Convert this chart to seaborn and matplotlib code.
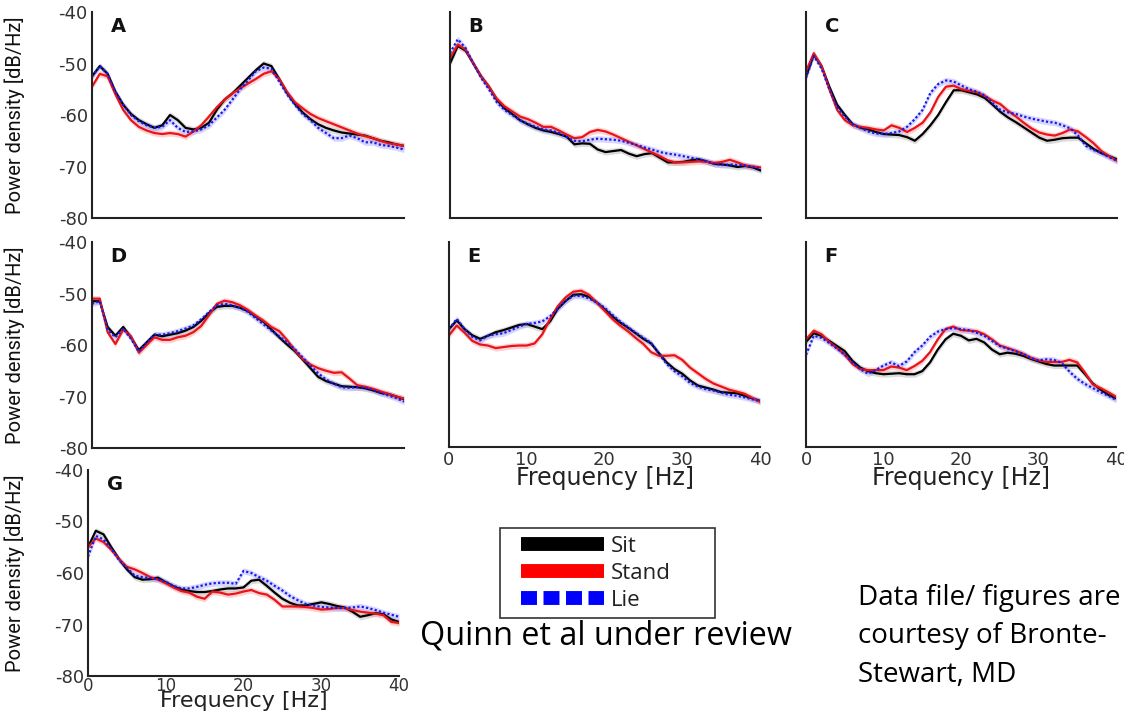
import numpy as np
import pandas as pd
import matplotlib
matplotlib.use("Agg")
import matplotlib.pyplot as plt
from matplotlib.lines import Line2D
from matplotlib.patches import Rectangle
import seaborn as sns

# ---------------- data (dB/Hz), 0..40 Hz, 1 Hz steps ----------------
freq = list(range(0, 41))

A_sit = [-52.5,-50.5,-52,-55.5,-58,-59.8,-61,-61.8,-62.5,-62,-60,-61,-62.5,-62.8,-62.5,-61.5,-59,-57,-55.8,-54.3,-52.8,-51.3,-50,-50.5,-53,-55.7,-57.8,-59.5,-60.8,-61.8,-62.5,-63,-63.4,-63.6,-63.8,-64,-64.5,-65,-65.3,-65.7,-66]
A_stand = [-54.5,-52,-52.5,-56,-59,-61,-62.3,-63,-63.5,-63.7,-63.5,-63.7,-64.2,-63.2,-62,-60.3,-58.5,-57,-55.8,-54.8,-53.9,-53,-52,-51.5,-53,-55.5,-57.5,-58.7,-59.8,-60.6,-61.2,-61.8,-62.4,-63,-63.6,-64.1,-64.5,-65,-65.5,-65.7,-66]
A_lie = [-52.5,-50.5,-52,-55.5,-58,-60,-61.2,-62,-62.5,-62.3,-61,-62.5,-63.3,-63.2,-62.8,-62,-60.5,-59,-57,-55,-53.3,-51.5,-50.8,-51,-53.5,-56,-58,-59.8,-61,-62.5,-63.5,-64.5,-64.5,-64,-64.5,-65.3,-65.3,-65.8,-66,-66.3,-66.7]

B_sit = [-50,-46.6,-47.5,-50,-52.5,-54.5,-57,-58.7,-59.8,-61,-61.8,-62.5,-63,-63.3,-63.7,-64.2,-65.7,-65.5,-65.6,-66.7,-67.2,-67,-66.8,-67.5,-68,-67.6,-67.4,-68.3,-69.2,-69.2,-69.1,-68.8,-68.6,-69,-69.5,-69.6,-69.8,-70.1,-69.9,-70.2,-70.8]
B_stand = [-49,-46.3,-47.3,-50,-52.5,-54.5,-56.8,-58.3,-59.3,-60.3,-60.8,-61.5,-62.3,-62.3,-63,-63.8,-64.5,-64.3,-63.3,-62.9,-63.2,-63.8,-64.5,-65.2,-65.9,-66.6,-67.3,-68,-68.8,-69.2,-69.2,-69.1,-69,-69.1,-69.3,-69.1,-68.7,-69.2,-69.8,-70,-70.2]
B_lie = [-48,-45.3,-47,-50,-52.8,-55,-57.5,-59,-60,-61,-61.7,-62.3,-62.8,-63,-63.5,-64.3,-65,-65.1,-64.8,-64.6,-64.7,-64.8,-65,-65.4,-65.8,-66.3,-66.7,-67.2,-67.5,-67.7,-68,-68.3,-68.6,-69,-69.5,-69.7,-69.6,-69.7,-69.8,-70.1,-70.5]

C_sit = [-52.5,-48.3,-50.5,-54.5,-58,-60,-61.8,-62.5,-62.8,-63.3,-63.7,-63.8,-63.9,-64.3,-65,-63.7,-62,-60,-57.5,-55.2,-55.2,-55.6,-56,-56.7,-58,-59.4,-60.5,-61.4,-62.4,-63.4,-64.4,-65,-64.8,-64.5,-64.4,-64.4,-65.5,-66.6,-67.4,-68,-68.6]
C_stand = [-51.5,-48,-50.5,-55,-59,-61,-62,-62.3,-62.5,-62.8,-63,-62,-62.5,-63.3,-62.5,-61.5,-59.5,-56.5,-54.5,-54.3,-55,-55.3,-55.6,-56.3,-57.2,-57.9,-59.2,-60.3,-61.5,-62.6,-63.4,-63.8,-64,-63.5,-62.8,-63.2,-64.3,-65.5,-67,-68,-68.9]
C_lie = [-52.8,-48.5,-51,-55,-58.5,-60.3,-61.8,-62.5,-63.2,-63.6,-63.7,-63.5,-63.2,-62.3,-60.8,-59,-55.7,-54,-53.3,-53.5,-54.3,-55,-55.5,-56.2,-57.7,-59,-59.5,-59.8,-60.3,-60.7,-61,-61.3,-61.5,-62,-62.6,-64,-66,-66.8,-67.4,-68.2,-68.9]

D_sit = [-51.5,-51.5,-56.5,-58.2,-56.5,-58.5,-61,-59.5,-58,-58.3,-58,-57.7,-57.2,-56.5,-55.3,-53.8,-52.6,-52.4,-52.4,-52.8,-53.4,-54.5,-55.5,-57,-58.5,-59.9,-61.2,-62.8,-64.5,-66.2,-67,-67.5,-68,-68.1,-68.2,-68.4,-68.8,-69.3,-69.5,-70,-70.5]
D_stand = [-51,-51,-57.5,-59.8,-57,-58.3,-61.5,-60,-58.5,-59,-59,-58.5,-58.2,-57.5,-56.3,-54.2,-52,-51.4,-51.7,-52.3,-53.2,-54.3,-55.3,-56.5,-57.3,-59,-61,-62.7,-63.8,-64.5,-65,-65.4,-65.3,-66.5,-67.8,-68.1,-68.5,-69,-69.5,-70,-70.4]
D_lie = [-52,-51.5,-57,-58.5,-56.8,-58.8,-61.3,-59.5,-58,-58,-57.7,-57.3,-56.8,-56.2,-55,-53.6,-52.3,-52,-52.3,-52.8,-53.6,-54.8,-56,-57.2,-58.3,-59.5,-60.8,-62.4,-64,-65.5,-66.7,-67.5,-68.2,-68.3,-68.2,-68.3,-68.7,-69.3,-69.8,-70.3,-71]

E_sit = [-57,-55.3,-57,-58.2,-58.9,-58.3,-57.6,-57.2,-56.7,-56.2,-56,-56.5,-57,-55.5,-53,-51.5,-50.3,-50.2,-50.7,-51.8,-53.1,-54.5,-55.7,-56.7,-57.8,-58.9,-59.8,-61.7,-63.5,-64.8,-65.7,-67,-68,-68.4,-68.8,-69.3,-69.4,-69.5,-70,-70.5,-71]
E_stand = [-58.2,-56.3,-57.7,-59.3,-60,-60.2,-60.7,-60.5,-60.3,-60.2,-60.2,-59.8,-58,-55,-52.5,-50.8,-49.7,-49.5,-50.3,-51.8,-53.4,-55,-56.3,-57.4,-58.7,-59.9,-61.5,-62.2,-62.2,-62.1,-63,-64.5,-65.6,-66.7,-67.6,-68.2,-68.8,-69.2,-69.6,-70.4,-71.2]
E_lie = [-57,-55,-57,-58.5,-59.2,-58.3,-58,-57.8,-57.2,-56.5,-56,-55.8,-55.5,-54.5,-53,-51.5,-50.5,-50.5,-51,-51.8,-52.8,-54.2,-55.5,-56.6,-57.7,-58.7,-59.7,-61.8,-63.8,-65.2,-66.2,-67.5,-68.2,-68.7,-69,-69.4,-69.8,-70,-70.3,-70.7,-71]

F_sit = [-59.5,-57.8,-58.3,-59.3,-60.3,-61.3,-63.2,-64.5,-65.2,-65.6,-65.8,-65.7,-65.6,-65.8,-65.8,-65.2,-63.5,-61,-59,-57.9,-58.3,-59.2,-58.9,-59.6,-61,-61.9,-61.6,-61.8,-62.2,-62.8,-63.3,-63.8,-64.1,-64.1,-64.1,-64.1,-65.8,-67.6,-68.8,-69.8,-70.5]
F_stand = [-59,-57.3,-58,-59.5,-60.7,-62,-63.8,-64.8,-65,-65,-65,-64.3,-64.5,-65,-64.2,-63.2,-61.5,-59,-57,-56.5,-57.2,-57.3,-57.4,-58,-59,-60.2,-60.7,-61.2,-61.8,-62.6,-63.1,-63.4,-63.4,-63.4,-63,-63.5,-65.5,-67.8,-68.5,-69.3,-70.2]
F_lie = [-62,-58.3,-58.7,-59.7,-60.8,-62,-63.5,-64.8,-65.7,-65,-64.1,-63.5,-64.2,-63.3,-61.5,-60.2,-58.5,-57.5,-57,-56.8,-57,-57.2,-57.7,-58.3,-59.3,-60.3,-60.8,-61.3,-61.8,-62.6,-63.1,-62.9,-63,-63.6,-65.3,-66.7,-67.7,-68.5,-69.3,-70,-70.8]

G_sit = [-55,-51.8,-52.5,-55,-57.3,-59.3,-60.8,-61.3,-61.2,-60.9,-61.8,-62.6,-63.2,-63.5,-63.7,-63.7,-63.5,-63.2,-63,-63,-62.8,-61.5,-61.3,-62.5,-63.8,-65,-65.8,-66.3,-66.3,-66,-65.7,-66,-66.4,-66.7,-67.5,-68.5,-68.2,-67.8,-68,-69,-69.5]
G_stand = [-55,-53.3,-54,-55.5,-57.3,-58.8,-59.3,-60,-60.8,-61.3,-62,-62.8,-63.5,-63.8,-64.6,-65,-63.6,-63.8,-64.2,-64,-63.6,-63.3,-63.9,-64.2,-65.2,-66.5,-66.5,-66.5,-66.6,-66.8,-67.1,-67,-66.8,-66.8,-67.2,-67.5,-67.7,-67.9,-68.2,-69.5,-69.7]
G_lie = [-56.8,-52.8,-53.5,-55.3,-57.5,-59,-60.5,-60.8,-61,-61.2,-61.7,-62.5,-63,-63,-62.7,-62.3,-62,-61.9,-61.9,-62.1,-59.6,-60,-60.8,-61.5,-62.5,-63.4,-64.5,-65.3,-66,-66.3,-66.6,-66.7,-66.8,-66.8,-66.7,-66.5,-66.8,-67.2,-67.7,-68.1,-68.5]

panel_labels = ["A", "B", "C", "D", "E", "F", "G"]
conditions = ["Sit", "Stand", "Lie"]
y_ticks = [-80, -75, -70, -65, -60, -55, -50, -45, -40]
y_ticklabels = ["-80", "", "-70", "", "-60", "", "-50", "", "-40"]
x_ticks = [0, 5, 10, 15, 20, 25, 30, 35, 40]
x_ticklabels = ["0", "", "10", "", "20", "", "30", "", "40"]

panels = {
    "A": (A_sit, A_stand, A_lie),
    "B": (B_sit, B_stand, B_lie),
    "C": (C_sit, C_stand, C_lie),
    "D": (D_sit, D_stand, D_lie),
    "E": (E_sit, E_stand, E_lie),
    "F": (F_sit, F_stand, F_lie),
    "G": (G_sit, G_stand, G_lie),
}

# ---------------- style ----------------
sns.set_theme(style="white")
plt.rcParams["font.family"] = ["DejaVu Sans"]
plt.rcParams["axes.unicode_minus"] = False

W, H = 1124, 713
fig = plt.figure(figsize=(W / 100, H / 100), dpi=100)

# pixel boxes: left, top, right, bottom
boxes = {
    "A": (92, 12, 404, 218),
    "B": (450, 12, 761, 218),
    "C": (806, 12, 1117, 218),
    "D": (92, 242, 404, 448),
    "E": (449, 242, 760, 447),
    "F": (806, 242, 1116, 447),
    "G": (88, 470, 399, 676),
}
show_ylab = {"A", "D", "G"}
show_xlab = {"E", "F", "G"}
xlabel_pad = {"E": -2.0, "F": -2.0, "G": -3.5}
xlabel_size = {"E": 17, "F": 17, "G": 16}

line_colors = {"Sit": "black", "Stand": "#e8141a", "Lie": "#1a1ae6"}
band_colors = {"Sit": "#9a9a9a", "Stand": "#ff8080", "Lie": "#8c8cff"}
dashes = {"Sit": "", "Stand": "", "Lie": (1.0, 1.0)}
ylab_font = ["Roboto", "DejaVu Sans"]

for name in panel_labels:
    l, t, r, b = boxes[name]
    ax = fig.add_axes([l / W, 1 - b / H, (r - l) / W, (b - t) / H])
    sit, stand, lie = panels[name]
    df = pd.DataFrame({
        "freq": freq * 3,
        "power": list(sit) + list(stand) + list(lie),
        "cond": ["Sit"] * len(freq) + ["Stand"] * len(freq) + ["Lie"] * len(freq),
    })
    for c in conditions:
        sub = df[df["cond"] == c]
        ax.fill_between(sub["freq"], sub["power"] - 0.6, sub["power"] + 0.6,
                        color=band_colors[c], alpha=0.35, linewidth=0)
    sns.lineplot(data=df, x="freq", y="power", hue="cond", style="cond",
                 hue_order=conditions, style_order=conditions,
                 palette=line_colors, dashes=dashes, ax=ax, legend=False,
                 linewidth=1.6)
    ax.set_xlim(0, 40)
    ax.set_ylim(-80, -40)
    ax.set_xticks(x_ticks)
    ax.set_yticks(y_ticks)
    if name in show_xlab:
        ax.set_xticklabels(x_ticklabels)
        ax.set_xlabel("Frequency [Hz]", fontsize=xlabel_size[name],
                      color="#222", labelpad=xlabel_pad[name])
    else:
        ax.set_xticklabels([])
        ax.set_xlabel("")
    if name in show_ylab:
        ax.set_yticklabels(y_ticklabels)
        ax.set_ylabel("Power density [dB/Hz]", fontsize=14.5, family=ylab_font,
                      color="#111")
        ax.yaxis.set_label_coords((25 - l) / (r - l), 0.5)
    else:
        ax.set_yticklabels([])
        ax.set_ylabel("")
    ax.tick_params(axis="both", direction="in", length=5, width=1.3,
                   colors="#222", labelsize=13, labelcolor="#333", pad=3)
    if name == "G":
        ax.tick_params(axis="x", pad=1.0, labelsize=12)
    for s in ["top", "right"]:
        ax.spines[s].set_visible(False)
    for s in ["left", "bottom"]:
        ax.spines[s].set_color("#222")
        ax.spines[s].set_linewidth(1.5)
    ax.set_facecolor("none")
    ax.text(0.06, 0.975, name, transform=ax.transAxes, ha="left", va="top",
            fontsize=14, fontweight="bold", color="#111")

# legend frame (pixel box 500..715 x 528..618)
fig.patches.append(Rectangle((500 / W, 1 - 618 / H), 215 / W, 90 / H,
                             transform=fig.transFigure, fill=False,
                             edgecolor="#333", linewidth=1.2))
handles = [
    Line2D([0], [0], color="black", lw=10, solid_capstyle="butt"),
    Line2D([0], [0], color="#ff0000", lw=10, solid_capstyle="butt"),
    Line2D([0], [0], color="#0000ff", lw=10, linestyle=(0, (1.15, 0.47)),
           dash_capstyle="butt"),
]
leg = fig.legend(handles, conditions, loc="upper left",
                 bbox_to_anchor=(514 / W, 1 - 529 / H),
                 frameon=False, borderaxespad=0,
                 handlelength=3.75, handletextpad=0.3,
                 labelspacing=0.28, borderpad=0.3,
                 prop={"family": ["Open Sans", "DejaVu Sans"], "size": 16})
for tx in leg.get_texts():
    tx.set_color("#222")

fig.text(420 / W, 1 - 636 / H, "Quinn et al under review", ha="left",
         va="center", fontsize=23.3, family=["Open Sans", "DejaVu Sans"],
         color="black")
fig.text(858 / W, 1 - 636 / H,
         "Data file/ figures are\ncourtesy of Bronte-\nStewart, MD",
         ha="left", va="center", fontsize=20,
         family=["Open Sans", "DejaVu Sans"], color="black", linespacing=1.5)

fig.savefig("out.png", dpi=100)
